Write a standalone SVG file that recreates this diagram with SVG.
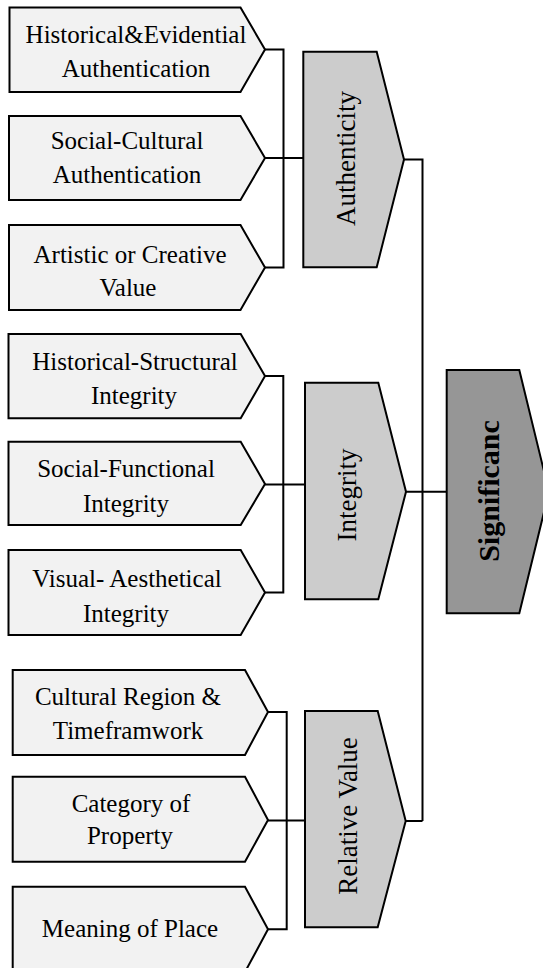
<svg xmlns="http://www.w3.org/2000/svg" width="543" height="968" viewBox="0 0 543 968">
<style>
.box{fill:#f2f2f2;stroke:#000;stroke-width:2;stroke-linejoin:miter}
.mid{fill:#cccccc;stroke:#000;stroke-width:2}
.top{fill:#969696;stroke:#000;stroke-width:2}
.t{font-family:"Liberation Serif","Times New Roman",serif;font-size:25px;fill:#000;text-anchor:middle}
.v{font-family:"Liberation Serif","Times New Roman",serif;font-size:27px;fill:#000;text-anchor:middle}
.b{font-family:"Liberation Serif","Times New Roman",serif;font-size:30px;font-weight:bold;fill:#000;text-anchor:middle}
.c{fill:none;stroke:#000;stroke-width:2}
</style>
<rect width="543" height="968" fill="#fff"/>
<g id="connectors">
<path class="c" d="M265,49.5H283.5V267.5H265M265,158H303.3"/>
<path class="c" d="M404,159.5H422.5V821"/>
<path class="c" d="M265,376H283.3V592.5H265M265,484.5H305"/>
<path class="c" d="M406,491.7H446.7"/>
<path class="c" d="M268,712H286.7V929.3H268M268,820.5H305"/>
<path class="c" d="M405.7,821H422.5"/>
</g>
<g id="hist-evid">
<polygon class="box" points="9.5,7.5 240.5,7.5 265,49.5 240.5,92 9.5,92"/>
<text class="t" x="136" y="43">Historical&amp;Evidential</text>
<text class="t" x="136" y="77">Authentication</text>
</g>
<g id="social-cultural">
<polygon class="box" points="9,116 240.5,116 265,158 240.5,200 9,200"/>
<text class="t" x="127" y="149">Social-Cultural</text>
<text class="t" x="127" y="183">Authentication</text>
</g>
<g id="artistic">
<polygon class="box" points="9,225 240.5,225 265,267.5 240.5,310 9,310"/>
<text class="t" x="130" y="263">Artistic or Creative</text>
<text class="t" x="128" y="296">Value</text>
</g>
<g id="hist-struct">
<polygon class="box" points="8.5,334 240.7,334 265,376 240.7,418.3 8.5,418.3"/>
<text class="t" x="135" y="370">Historical-Structural</text>
<text class="t" x="134" y="403.5">Integrity</text>
</g>
<g id="social-func">
<polygon class="box" points="8.5,441.7 240.7,441.7 265,484 240.7,525 8.5,525"/>
<text class="t" x="126" y="477">Social-Functional</text>
<text class="t" x="126" y="511.5">Integrity</text>
</g>
<g id="visual">
<polygon class="box" points="8.5,550 240.7,550 265,592.5 240.7,635 8.5,635"/>
<text class="t" x="127" y="586.5">Visual- Aesthetical</text>
<text class="t" x="126" y="621.5">Integrity</text>
</g>
<g id="cultural-region">
<polygon class="box" points="12.7,670 245,670 268,712 245,755 12.7,755"/>
<text class="t" x="128" y="705">Cultural Region &amp;</text>
<text class="t" x="128" y="738.5">Timeframwork</text>
</g>
<g id="category">
<polygon class="box" points="12.7,776.7 245,776.7 268,820 245,861.7 12.7,861.7"/>
<text class="t" x="131" y="811.5">Category of</text>
<text class="t" x="130" y="843.5">Property</text>
</g>
<g id="meaning">
<polygon class="box" points="12.7,886.7 245,886.7 268,929.3 245,972 12.7,972"/>
<text class="t" x="130" y="937">Meaning of Place</text>
</g>
<g id="authenticity">
<polygon class="mid" points="303.3,51.7 376.7,51.7 404,159.5 376.7,267.3 303.3,267.3"/>
<text class="v" transform="translate(355,158.5) rotate(-90)">Authenticity</text>
</g>
<g id="integrity">
<polygon class="mid" points="305,382.7 378.3,382.7 406,491.7 378.3,599.3 305,599.3"/>
<text class="v" transform="translate(356,495) rotate(-90)">Integrity</text>
</g>
<g id="relative-value">
<polygon class="mid" points="305,711 377.7,711 405.7,821 377.7,927.3 305,927.3"/>
<text class="v" transform="translate(356.5,816) rotate(-90)">Relative Value</text>
</g>
<g id="significance">
<polygon class="top" points="446.7,370 519.3,370 549,491.7 519.3,613.3 446.7,613.3"/>
<text class="b" transform="translate(498.5,491) rotate(-90)">Significanc</text>
</g>
</svg>
